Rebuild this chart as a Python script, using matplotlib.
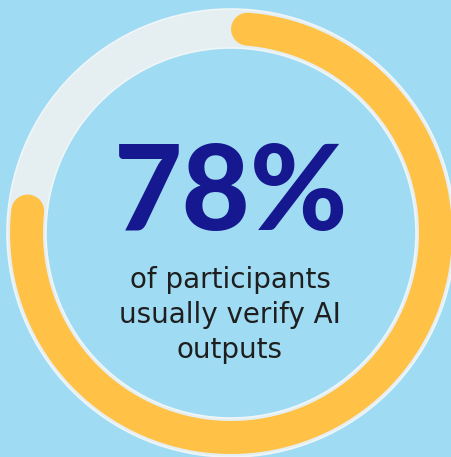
import matplotlib
matplotlib.use("Agg")
import matplotlib.pyplot as plt
import numpy as np
from matplotlib.patches import Wedge, Circle

# data
value = 78
big_label = "78%"
sub_lines = ["of participants", "usually verify AI", "outputs"]

bg = "#9fdcf3"
track_col = "#e5eff2"
edge_col = "#f0f6f8"
arc_col = "#ffc247"
navy = "#161890"
text_col = "#1e1e1e"

W, H = 452, 457
cx, cy = 231, 233
r_out, r_in = 224, 185
r_arc, arc_w = 204.5, 33

fig = plt.figure(figsize=(W / 100, H / 100), dpi=100)
fig.patch.set_facecolor(bg)
ax = fig.add_axes([0, 0, 1, 1])
ax.set_xlim(0, W)
ax.set_ylim(H, 0)
ax.set_aspect("equal")
ax.axis("off")

px = 72 / 100  # pixels -> points

# track ring
ax.add_patch(Wedge((cx, cy), r_out, 0, 360, width=r_out - r_in,
                   facecolor=track_col, edgecolor="none"))
for r in (r_out, r_in):
    ax.add_patch(Circle((cx, cy), r, fill=False, edgecolor=edge_col, lw=1.6 * px))

# progress arc, clockwise from top, round caps inside the share
cap = (arc_w / 2) / r_arc
t = np.linspace(cap, 2 * np.pi * value / 100 - cap, 400)
ax.plot(cx + r_arc * np.sin(t), cy - r_arc * np.cos(t), color=arc_col,
        lw=arc_w * px, solid_capstyle="round")

ax.text(cx, 230, big_label, ha="center", va="baseline", fontsize=85,
        fontfamily="Lato", fontweight="black", color=navy)

for i, line in enumerate(sub_lines):
    ax.text(cx - 1, 288 + 35 * i, line, ha="center", va="baseline", fontsize=20,
            fontfamily="DejaVu Sans", color=text_col)

fig.savefig("out.png", dpi=100, facecolor=bg)
